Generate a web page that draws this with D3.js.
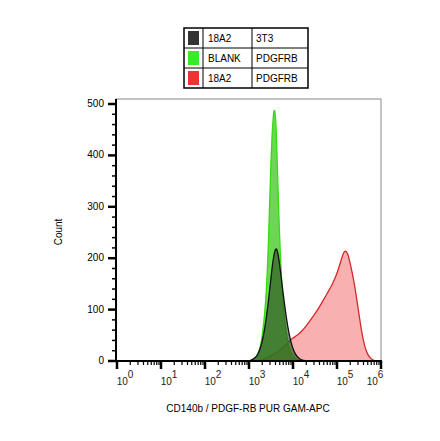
<!DOCTYPE html><html><head><meta charset="utf-8"><script src="https://cdn.jsdelivr.net/npm/d3@7"></script>
<style>body{margin:0;background:#fff}text{font-family:Arial,"Liberation Sans",sans-serif}</style></head><body><svg id="c" width="440" height="441"></svg><script>
const legendRows=[["#333333","18A2","3T3"],["#33ee22","BLANK","PDGFRB"],["#ee3333","18A2","PDGFRB"]];
const yTicks=[0,100,200,300,400,500];
const xDecades=[0,1,2,3,4,5,6];
const redX=[3.2,3.4,3.6,3.8,3.9,4.0,4.1,4.2,4.3,4.4,4.5,4.6,4.7,4.8,4.9,5.0,5.1,5.15,5.2,5.25,5.3,5.4,5.5,5.6,5.7,5.8,5.9];
const redY=[0,5,14,28,38,45,50,58,68,80,92,105,120,135,150,170,198,212,215,208,190,150,90,35,10,2,0];
const greenX=[3.05,3.2,3.3,3.4,3.45,3.5,3.55,3.58,3.62,3.66,3.72,3.8,3.9,4.0,4.1,4.2];
const greenY=[0,8,40,130,250,400,480,495,460,330,180,80,25,8,2,0];
const blackX=[3.0,3.15,3.25,3.35,3.45,3.52,3.58,3.63,3.68,3.75,3.85,3.95,4.05,4.15,4.3];
const blackY=[0,5,20,55,120,180,215,222,200,150,80,35,12,3,0];
const svg=d3.select("#c");
const x=d3.scaleLinear().domain([0,6]).range([117,381]);
const y=d3.scaleLinear().domain([0,500]).range([361,104]);
svg.append("rect").attr("x",116).attr("y",99).attr("width",265).attr("height",262).attr("fill","none").attr("stroke","#888").attr("stroke-width",1);
const area=(xs,ys)=>d3.area().x((d,i)=>x(xs[i])).y0(y(0)).y1(d=>y(d)).curve(d3.curveBasis)(ys);
const line=(xs,ys)=>d3.line().x((d,i)=>x(xs[i])).y(d=>y(d)).curve(d3.curveBasis)(ys);
[[redX,redY,"rgba(240,80,80,0.45)","#d42a2a"],[greenX,greenY,"rgba(60,200,30,0.75)","#33dd11"],[blackX,blackY,"rgba(40,70,30,0.6)","#111"]].forEach(([xs,ys,f,s])=>{
svg.append("path").attr("d",area(xs,ys)).attr("fill",f);
svg.append("path").attr("d",line(xs,ys)).attr("fill","none").attr("stroke",s).attr("stroke-width",1.3);});
const ya=svg.append("g").attr("transform","translate(116,0)");
ya.append("line").attr("y1",99).attr("y2",361).attr("stroke","#000").attr("stroke-width",2);
d3.range(0,501,20).forEach(v=>{const big=v%100===0;ya.append("line").attr("x1",big?-8:-4).attr("x2",0).attr("y1",y(v)).attr("y2",y(v)).attr("stroke","#000").attr("stroke-width",big?2.5:1.5);});
yTicks.forEach(v=>ya.append("text").attr("x",-12).attr("y",y(v)+3).attr("text-anchor","end").attr("font-size",10).text(v));
const xa=svg.append("g").attr("transform","translate(0,361)");
xa.append("line").attr("x1",116).attr("x2",382).attr("stroke","#000").attr("stroke-width",2);
xDecades.forEach(d=>{xa.append("line").attr("x1",x(d)).attr("x2",x(d)).attr("y1",0).attr("y2",8).attr("stroke","#000").attr("stroke-width",2.5);
if(d<6)for(let k=2;k<10;k++){const p=x(d+Math.log10(k));xa.append("line").attr("x1",p).attr("x2",p).attr("y1",0).attr("y2",4).attr("stroke","#000").attr("stroke-width",1.2);}
const t=xa.append("text").attr("x",x(d)+(d===6?-6:8)).attr("y",24).attr("text-anchor","middle").attr("font-size",10).attr("fill","#222");
t.append("tspan").text("10");t.append("tspan").attr("dy",-7).attr("font-size",10).text(d);});
svg.append("text").attr("x",248).attr("y",412).attr("text-anchor","middle").attr("font-size",10).text("CD140b / PDGF-RB PUR GAM-APC");
svg.append("text").attr("transform","translate(62,232) rotate(-90)").attr("text-anchor","middle").attr("font-size",10).text("Count");
const lg=svg.append("g").attr("transform","translate(184,28)");
const rh=20;
lg.append("rect").attr("width",124).attr("height",rh*3).attr("fill","#fff").attr("stroke","#000").attr("stroke-width",1.5);
legendRows.forEach((r,i)=>{
if(i>0)lg.append("line").attr("x1",0).attr("x2",124).attr("y1",i*rh).attr("y2",i*rh).attr("stroke","#000");
lg.append("rect").attr("x",4).attr("y",i*rh+3).attr("width",11).attr("height",14).attr("fill",r[0]);
lg.append("text").attr("x",24).attr("y",i*rh+14).attr("font-size",10).text(r[1]);
lg.append("text").attr("x",72).attr("y",i*rh+14).attr("font-size",10).text(r[2]);});
[19,68].forEach(v=>lg.append("line").attr("x1",v).attr("x2",v).attr("y1",0).attr("y2",rh*3).attr("stroke","#000"));
</script></body></html>
